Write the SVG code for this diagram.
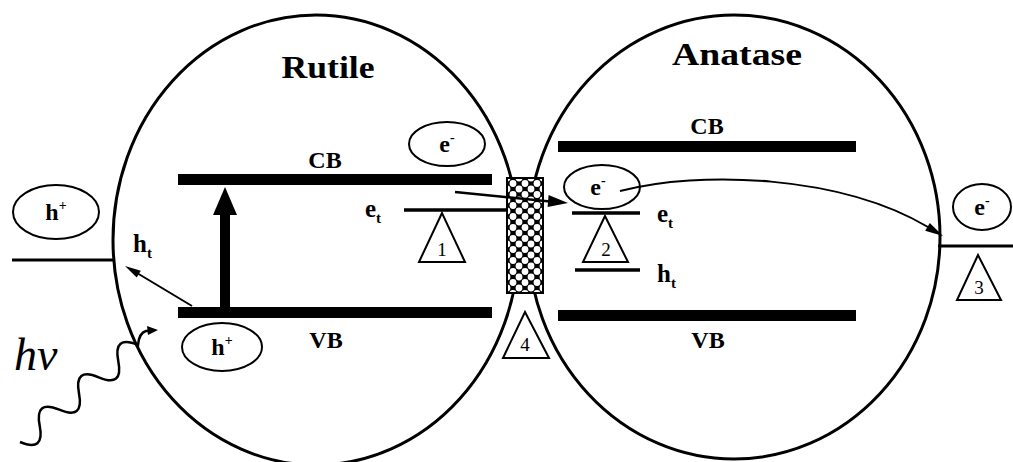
<svg xmlns="http://www.w3.org/2000/svg" width="1013" height="462" viewBox="0 0 1013 462">
<style>
.ln{stroke:#000;fill:none}
.band{fill:#000}
.oval{fill:#fff;stroke:#000;stroke-width:2}
.tri{fill:#fff;stroke:#000;stroke-width:2}
.t{font-family:"Liberation Serif",serif;fill:#000;font-weight:bold}
.lbl{font-size:24px;text-anchor:middle}
.num{font-size:19px;text-anchor:middle;font-weight:normal}
.big{font-size:31px;text-anchor:middle}
.hv{font-family:"Liberation Serif",serif;fill:#000;font-size:46px;font-style:italic;font-weight:normal}
</style>
<defs>
<pattern id="mesh" patternUnits="userSpaceOnUse" x="507" y="178" width="12" height="11">
<rect width="12" height="11" fill="#000"/>
<circle cx="0" cy="0" r="3.4" fill="#fff"/>
<circle cx="12" cy="0" r="3.4" fill="#fff"/>
<circle cx="0" cy="11" r="3.4" fill="#fff"/>
<circle cx="12" cy="11" r="3.4" fill="#fff"/>
<circle cx="6" cy="5.5" r="3.4" fill="#fff"/>
</pattern>
</defs>
<rect width="1013" height="462" fill="#fff"/>

<g id="rutile">
<ellipse cx="316" cy="240" rx="203" ry="225" class="ln" stroke-width="3"/>
<text class="t big" x="328" y="78" textLength="93" lengthAdjust="spacingAndGlyphs">Rutile</text>
</g>
<g id="anatase">
<ellipse cx="734" cy="237" rx="206" ry="222" class="ln" stroke-width="3"/>
<text class="t big" x="737" y="65" textLength="130" lengthAdjust="spacingAndGlyphs">Anatase</text>
</g>

<g id="rutile-bands">
<rect class="band" x="178" y="174" width="314" height="11"/>
<rect class="band" x="178" y="307" width="314" height="11"/>
<text class="t lbl" x="325" y="168">CB</text>
<text class="t lbl" x="326" y="348">VB</text>
<line class="ln" x1="404" y1="210" x2="508" y2="210" stroke-width="3.5"/>
<text class="t" x="365" y="217" font-size="25">e<tspan font-size="15" dy="6">t</tspan></text>
</g>

<g id="anatase-bands">
<rect class="band" x="558" y="141" width="298" height="11"/>
<rect class="band" x="558" y="310" width="298" height="11"/>
<text class="t lbl" x="707" y="134">CB</text>
<text class="t lbl" x="708" y="348">VB</text>
<line class="ln" x1="572" y1="213" x2="640" y2="213" stroke-width="3.5"/>
<line class="ln" x1="575" y1="270" x2="640" y2="270" stroke-width="3.5"/>
<text class="t" x="657" y="222" font-size="25">e<tspan font-size="15" dy="6">t</tspan></text>
<text class="t" x="657" y="282" font-size="25">h<tspan font-size="15" dy="6">t</tspan></text>
</g>

<g id="mesh-junction">
<rect x="507" y="178" width="36" height="115" fill="url(#mesh)" stroke="#000" stroke-width="2"/>
</g>

<g id="left-side">
<line class="ln" x1="12" y1="260" x2="113" y2="260" stroke-width="3"/>
<ellipse class="oval" cx="56" cy="212" rx="43" ry="27"/>
<text class="t" x="56" y="220" font-size="24" text-anchor="middle">h<tspan font-size="14" dy="-10">+</tspan></text>
<text class="t" x="133" y="252" font-size="25">h<tspan font-size="15" dy="6">t</tspan></text>
<text class="hv" x="14" y="370">hv</text>
</g>

<g id="h-plus-vb">
<ellipse class="oval" cx="222" cy="347" rx="40" ry="24"/>
<text class="t" x="222" y="355" font-size="24" text-anchor="middle">h<tspan font-size="14" dy="-10">+</tspan></text>
</g>

<g id="e-minus-cb">
<ellipse class="oval" cx="447" cy="144" rx="38" ry="22"/>
<text class="t" x="447" y="152" font-size="24" text-anchor="middle">e<tspan font-size="14" dy="-10">-</tspan></text>
</g>

<g id="e-minus-anatase">
<ellipse class="oval" cx="602" cy="187" rx="38" ry="22"/>
<text class="t" x="598" y="195" font-size="24" text-anchor="middle">e<tspan font-size="14" dy="-10">-</tspan></text>
</g>

<g id="right-side">
<line class="ln" x1="938" y1="246" x2="1013" y2="246" stroke-width="3"/>
<ellipse class="oval" cx="982" cy="207" rx="29" ry="23"/>
<text class="t" x="982" y="215" font-size="24" text-anchor="middle">e<tspan font-size="14" dy="-10">-</tspan></text>
</g>

<g id="triangles">
<polygon class="tri" points="442,213 419,262 465,262"/>
<text class="t num" x="442" y="256">1</text>
<polygon class="tri" points="605,216 583,262 628,262"/>
<text class="t num" x="606" y="256">2</text>
<polygon class="tri" points="978,255 957,300 1001,300"/>
<text class="t num" x="979" y="294">3</text>
<polygon class="tri" points="525,312 503,358 549,358"/>
<text class="t num" x="525" y="351">4</text>
</g>

<g id="connectors">
<line class="ln" x1="225" y1="307" x2="225" y2="210" stroke-width="10"/>
<polygon class="band" points="225,187 213,215 237,215"/>
<line class="ln" x1="192" y1="306" x2="137" y2="273" stroke-width="2"/>
<polygon class="band" points="125,266 140.8,270.8 136.7,277.6"/>
<path class="ln" stroke-width="2.5" d="M20,442 Q45,452.5 39.7,425.8 T59.3,409.7 T79,393.5 T98.7,377.3 T118.3,361.2 T138,345 Q139,333 146,331 L150,331"/>
<polygon class="band" points="158,330 147,326 148,335"/>
<line class="ln" x1="455" y1="192" x2="550" y2="201.5" stroke-width="2.5"/>
<polygon class="band" points="568,203 547.6,207 548.6,195"/>
<path class="ln" stroke-width="2" d="M620,191 C700,170 840,175 928,227"/>
<polygon class="band" points="943,236 925.2,230.8 929.8,223"/>
</g>
</svg>
